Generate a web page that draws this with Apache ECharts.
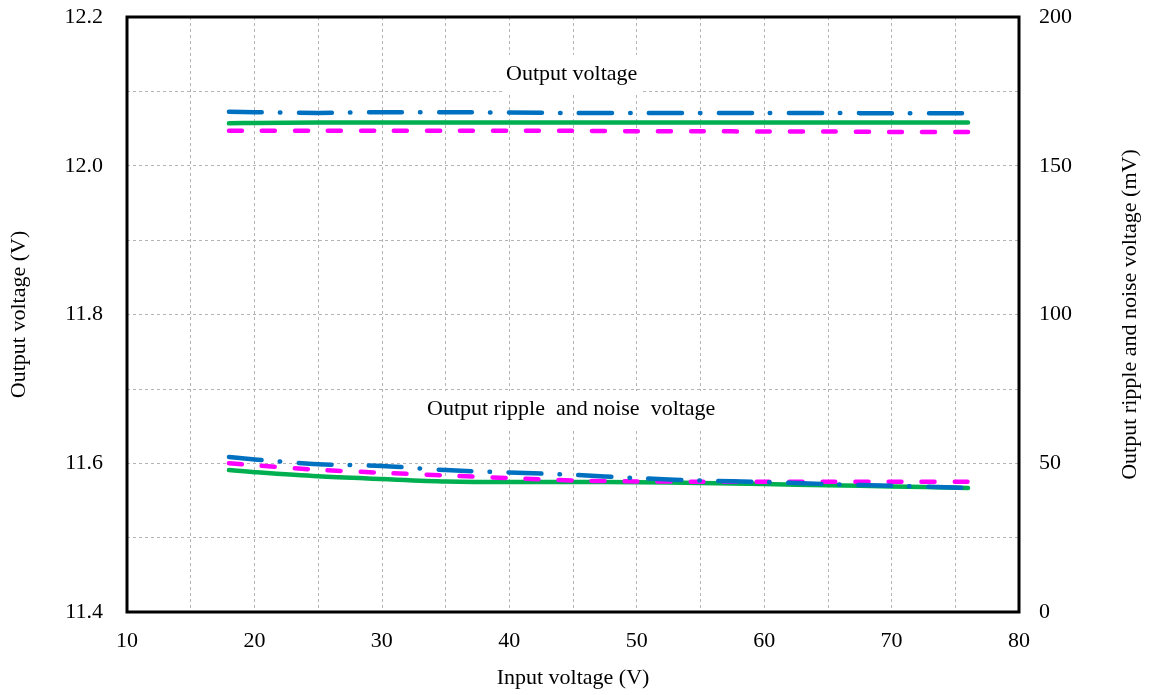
<!DOCTYPE html>
<html>
<head>
<meta charset="utf-8">
<script src="https://cdn.jsdelivr.net/npm/echarts@6/dist/echarts.min.js"></script>
<style>html,body{margin:0;padding:0;background:#fff;}#c{width:1149px;height:695px;}</style>
</head>
<body>
<div id="c"></div>
<script>
// Input voltage (V)
var inputV = [18, 20, 25, 30, 35, 40, 45, 50, 55, 60, 65, 70, 76];
// Output voltage (V) - left axis
var voutBlue    = [12.0725, 12.072, 12.071, 12.072, 12.072, 12.0715, 12.071, 12.071, 12.071, 12.071, 12.071, 12.0705, 12.0705];
var voutGreen   = [12.057, 12.0575, 12.058, 12.058, 12.058, 12.058, 12.058, 12.058, 12.058, 12.058, 12.058, 12.058, 12.058];
var voutMagenta = [12.047, 12.047, 12.047, 12.047, 12.047, 12.047, 12.047, 12.0465, 12.0465, 12.046, 12.046, 12.0455, 12.0455];
// Output ripple and noise voltage (mV) - right axis
var rippleBlue    = [52.1, 51.3, 49.7, 49.1, 47.7, 46.9, 46.1, 45.0, 44.2, 43.7, 43.0, 42.4, 41.7];
var rippleGreen   = [47.7, 47.0, 45.6, 44.7, 43.9, 43.7, 43.7, 43.6, 43.4, 43.0, 42.6, 42.2, 41.7];
var rippleMagenta = [50.0, 49.3, 47.8, 46.8, 45.9, 45.0, 44.2, 43.9, 43.8, 43.8, 43.8, 43.8, 43.8];

function pairs(xs, ys){ return xs.map(function(x,i){ return [x, ys[i]]; }); }

var FONT = '"Liberation Serif", "DejaVu Serif", serif';
var FS = 22;
var BLUE = '#0070C0', GREEN = '#00B050', MAGENTA = '#FF00FF';
var gridLine = {show:true, showMinLine:false, showMaxLine:false, lineStyle:{color:'#b4b4b4', type:[3,3], width:1}};

function mkSeries(name, ys, axis, color, dash){
  return {
    name: name, type:'line', yAxisIndex: axis, data: pairs(inputV, ys),
    showSymbol:false, smooth:0.3, animation:false,
    lineStyle:{color:color, width:4.5, type:dash, cap:'round', join:'round'},
    z: 3
  };
}

var chart = echarts.init(document.getElementById('c'));
chart.setOption({
  animation:false,
  backgroundColor:'#fff',
  grid:{left:127, right:130, top:17, bottom:83, show:true, borderColor:'#000', borderWidth:3, backgroundColor:'transparent', z:5, containLabel:false, outerBoundsMode:'none'},
  xAxis:{
    type:'value', min:10, max:80, interval:5,
    name:'Input voltage (V)', nameLocation:'middle', nameGap:55,
    nameTextStyle:{fontFamily:FONT, fontSize:FS, color:'#000'},
    axisLine:{show:false}, axisTick:{show:false},
    axisLabel:{fontFamily:FONT, fontSize:FS, color:'#000', margin:18,
      formatter:function(v){ return (Math.round(v)%10===0) ? String(Math.round(v)) : ''; }},
    splitLine:gridLine
  },
  yAxis:[{
    type:'value', min:11.4, max:12.2, interval:0.1, position:'left',
    name:'Output voltage (V)', nameLocation:'middle', nameGap:97, nameRotate:90,
    nameTextStyle:{fontFamily:FONT, fontSize:FS, color:'#000'},
    axisLine:{show:false}, axisTick:{show:false},
    axisLabel:{fontFamily:FONT, fontSize:FS, color:'#000', margin:24,
      formatter:function(v){ var k=Math.round(v*10); return (k%2===0) ? (k/10).toFixed(1) : ''; }},
    splitLine:gridLine
  },{
    type:'value', min:0, max:200, interval:25, position:'right',
    name:'Output ripple and noise voltage (mV)', nameLocation:'middle', nameGap:100, nameRotate:90,
    nameTextStyle:{fontFamily:FONT, fontSize:FS, color:'#000'},
    axisLine:{show:false}, axisTick:{show:false},
    axisLabel:{fontFamily:FONT, fontSize:FS, color:'#000', margin:20,
      formatter:function(v){ return (Math.round(v)%50===0) ? String(Math.round(v)) : ''; }},
    splitLine:{show:false}
  }],
  graphic:[
    {type:'text', left:502, top:55, z:10, style:{text:'Output voltage', fontFamily:FONT, fontSize:FS, fill:'#000', backgroundColor:'#fff', padding:[8,4,9,4]}},
    {type:'text', left:423, top:391, z:10, style:{text:'Output ripple  and noise  voltage', fontFamily:FONT, fontSize:FS, fill:'#000', backgroundColor:'#fff', padding:[7,4,9,4]}}
  ],
  series:[
    mkSeries('Vout blue', voutBlue, 0, BLUE, [33,18,0.5,18.5]),
    mkSeries('Vout green', voutGreen, 0, GREEN, 'solid'),
    mkSeries('Vout magenta', voutMagenta, 0, MAGENTA, [13,20]),
    mkSeries('Ripple green', rippleGreen, 1, GREEN, 'solid'),
    mkSeries('Ripple magenta', rippleMagenta, 1, MAGENTA, [13,20]),
    mkSeries('Ripple blue', rippleBlue, 1, BLUE, [33,18,0.5,18.5])
  ]
});
</script>
</body>
</html>
